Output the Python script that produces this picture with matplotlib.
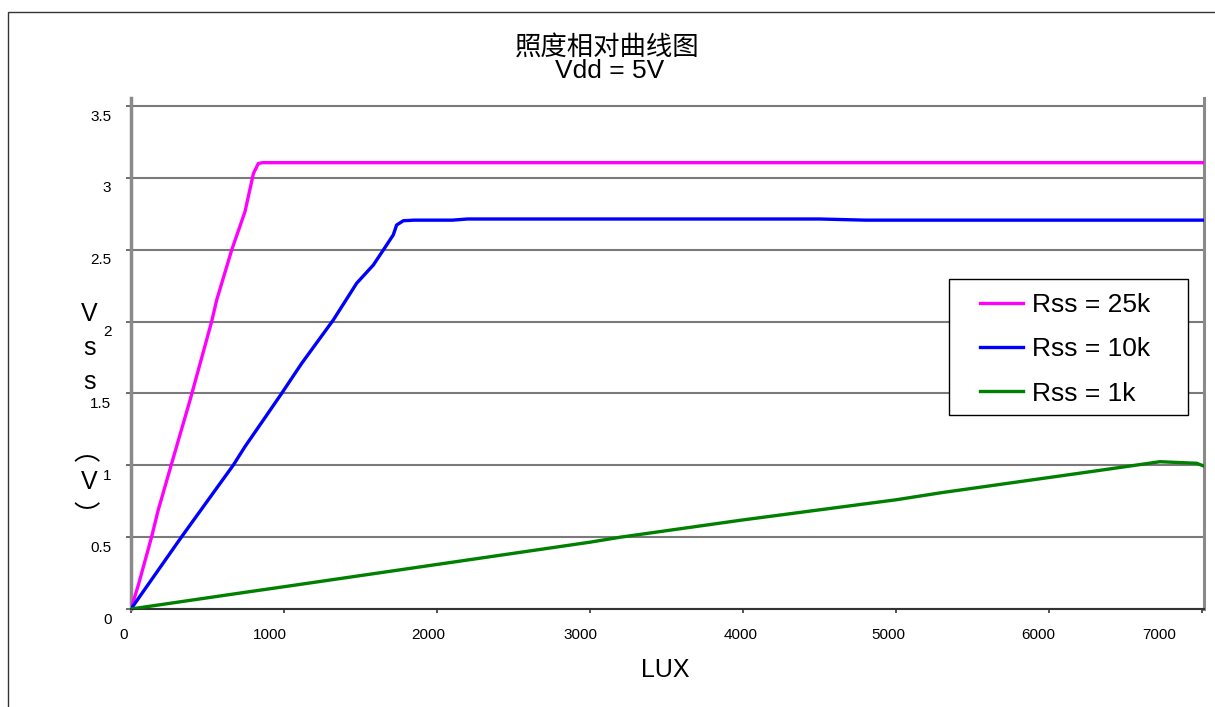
import matplotlib
matplotlib.use("Agg")
import matplotlib.pyplot as plt
from matplotlib.patches import Rectangle
from matplotlib.transforms import ScaledTranslation

plt.rcParams['font.family'] = ['Liberation Sans', 'Noto Sans CJK SC', 'DejaVu Sans']

# 数据
lux_25k = [0, 48, 135, 178, 222, 266, 386, 527, 560, 658, 745, 800, 832, 860, 7013]
v_25k = [0, 0.167, 0.503, 0.689, 0.851, 1.014, 1.454, 2.0, 2.15, 2.498, 2.765, 3.03, 3.10, 3.106, 3.106]

lux_10k = [0, 331, 669, 745, 865, 985, 1116, 1322, 1475, 1584, 1649, 1714, 1736, 1780,
           1850, 2100, 2200, 4500, 4800, 7013]
v_10k = [0, 0.503, 1.002, 1.13, 1.315, 1.501, 1.71, 2.011, 2.267, 2.394, 2.498, 2.603, 2.672, 2.702,
         2.706, 2.706, 2.714, 2.714, 2.706, 2.706]

lux_1k = [0, 745, 1000, 2000, 3000, 3200, 4000, 5000, 5300, 6000, 6300, 6725, 6965, 7007]
v_1k = [0, 0.116, 0.155, 0.31, 0.465, 0.5, 0.62, 0.76, 0.81, 0.915, 0.96, 1.025, 1.014, 0.997]

series_labels = ["Rss = 25k", "Rss = 10k", "Rss = 1k"]
series_colors = ["#ff00ff", "#0000ff", "#008000"]

x_ticks = [0, 1000, 2000, 3000, 4000, 5000, 6000, 7000]
y_ticks = [0, 0.5, 1, 1.5, 2, 2.5, 3, 3.5]

W, H = 1215, 707


def fx(px):
    return px / W


def fy(py):
    return 1 - py / H


fig = plt.figure(figsize=(W / 100, H / 100), dpi=100)
ax = fig.add_axes([fx(131), fy(609), (1204 - 131) / W, (609 - 98) / H])

ax.plot(lux_25k, v_25k, color=series_colors[0], lw=2.4, label=series_labels[0], zorder=3)
ax.plot(lux_10k, v_10k, color=series_colors[1], lw=2.4, label=series_labels[1], zorder=3)
ax.plot(lux_1k, v_1k, color=series_colors[2], lw=2.4, label=series_labels[2], zorder=3)

ax.set_xlim(0, 7013)
ax.set_ylim(0, 3.556)

ax.set_yticks(y_ticks)
ax.set_yticklabels(["0", "0.5", "1", "1.5", "2", "2.5", "3", "3.5"])
ax.set_xticks(x_ticks)
ax.set_xticklabels([str(t) for t in x_ticks])

ax.grid(axis='y', color='#7a7a7a', lw=1.5, zorder=1)
ax.set_axisbelow(True)

ax.spines['top'].set_visible(False)
ax.spines['left'].set_color('#8a8a8a')
ax.spines['left'].set_linewidth(2.5)
ax.spines['right'].set_color('#8a8a8a')
ax.spines['right'].set_linewidth(2.2)
ax.spines['bottom'].set_color('#333333')
ax.spines['bottom'].set_linewidth(1.5)

ax.tick_params(axis='y', direction='out', length=3.6, width=1.2, color='#555555',
               labelsize=11, pad=10.5)
ax.tick_params(axis='x', direction='out', length=2.9, width=1.2, color='#333333',
               labelsize=11, pad=10.8)

# 刻度标签的偏移 (像素)
x_label_dx = [-7, -14, -9, -10, -2, -8, -11, -43]
for lab, dx in zip(ax.get_xticklabels(), x_label_dx):
    lab.set_transform(lab.get_transform() + ScaledTranslation(dx / 100, 0, fig.dpi_scale_trans))
for lab in ax.get_yticklabels():
    lab.set_transform(lab.get_transform() + ScaledTranslation(0, -9 / 100, fig.dpi_scale_trans))

# 标题
fig.text(fx(607), fy(47), "照度相对曲线图", ha='center', va='center', fontsize=19)
fig.text(fx(610), fy(71), "Vdd = 5V", ha='center', va='center', fontsize=19)

# x 轴标题
fig.text(fx(665), fy(670), "LUX", ha='center', va='center', fontsize=18)

# y 轴标题 (竖排)
fig.text(fx(89.5), fy(314), "V", ha='center', va='center', fontsize=18)
fig.text(fx(90), fy(348), "s", ha='center', va='center', fontsize=18)
fig.text(fx(90), fy(382), "s", ha='center', va='center', fontsize=18)
fig.text(fx(87), fy(453), "︵", ha='center', va='center', fontsize=19)
fig.text(fx(89.5), fy(482), "V", ha='center', va='center', fontsize=18)
fig.text(fx(87), fy(517), "︶", ha='center', va='center', fontsize=19)

# 图例: 外框单独画, 以便左右留白和原图一致
ax.add_patch(Rectangle((fx(949), fy(415)), (1188 - 949) / W, (415 - 279) / H,
                       transform=fig.transFigure, clip_on=False, facecolor='white',
                       edgecolor='black', lw=1.0, zorder=4))
leg = ax.legend(loc='upper left', bbox_to_anchor=(fx(980), fy(293)), bbox_transform=fig.transFigure,
                fontsize=19, frameon=False, borderpad=0, labelspacing=0.77,
                handlelength=1.63, handletextpad=0.35, borderaxespad=0)
leg.set_zorder(5)

# 外框
fig.add_artist(Rectangle((fx(7.5), -0.05), 1.1, fy(11.5) + 0.05, transform=fig.transFigure,
                         fill=False, edgecolor='#333333', lw=1.0))

fig.savefig("out.png", dpi=100)
